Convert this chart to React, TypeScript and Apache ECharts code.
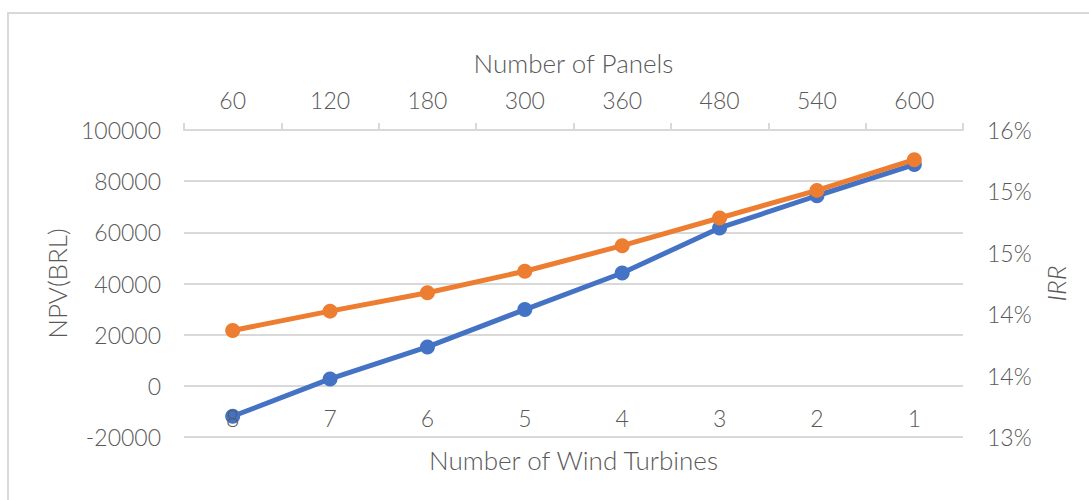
import React, { useEffect, useRef } from "react";
import * as echarts from "echarts";

const turbines = ["8", "7", "6", "5", "4", "3", "2", "1"];
const panels = ["60", "120", "180", "300", "360", "480", "540", "600"];
const npv = [-11900, 2700, 15200, 29800, 44100, 61700, 74300, 86500];
const irr = [14.04, 14.23, 14.41, 14.62, 14.87, 15.14, 15.41, 15.71];

const TEXT = "#595959";
const GRID = "#d9d9d9";
const FONT = "Lato, 'Liberation Sans', sans-serif";
const W = 300;

export default function App() {
  const ref = useRef<HTMLDivElement>(null);
  useEffect(() => {
    if (!ref.current) return;
    const chart = echarts.init(ref.current, undefined, { renderer: "svg" });
    chart.setOption({
      animation: false,
      backgroundColor: "#ffffff",
      textStyle: { fontFamily: FONT, color: TEXT },
      graphic: [
        {
          type: "rect",
          shape: { x: 8, y: 13, width: 1100, height: 520 },
          style: { fill: "none", stroke: GRID, lineWidth: 2 },
          silent: true,
          z: -1,
        },
      ],
      grid: { left: 184, right: 126, top: 130, bottom: 63, containLabel: false },
      xAxis: [
        {
          type: "category",
          position: "bottom",
          data: turbines,
          boundaryGap: true,
          z: 10,
          axisLine: { show: false },
          axisTick: { show: false },
          axisLabel: { inside: true, margin: 8, fontSize: 23, color: TEXT, fontFamily: FONT, fontWeight: W },
          name: "Number of Wind Turbines",
          nameLocation: "middle",
          nameGap: 10,
          nameTextStyle: { fontSize: 26, color: TEXT, fontFamily: FONT, fontWeight: W },
          splitLine: { show: false },
        },
        {
          type: "category",
          position: "top",
          data: panels,
          boundaryGap: true,
          axisLine: { show: true, lineStyle: { color: GRID, width: 2 } },
          axisTick: { show: true, length: 7, lineStyle: { color: GRID, width: 2 } },
          axisLabel: { margin: 19, fontSize: 23, color: TEXT, fontFamily: FONT, fontWeight: W },
          name: "Number of Panels",
          nameLocation: "middle",
          nameGap: 54,
          nameTextStyle: { fontSize: 26, color: TEXT, fontFamily: FONT, fontWeight: W },
          splitLine: { show: false },
        },
      ],
      yAxis: [
        {
          type: "value",
          position: "left",
          min: -20000,
          max: 100000,
          interval: 20000,
          axisLine: { show: false },
          axisTick: { show: false },
          axisLabel: {
            margin: 23,
            fontSize: 23,
            color: TEXT,
            fontFamily: FONT,
            fontWeight: W,
            formatter: (v: number) => String(v),
          },
          splitLine: { show: true, lineStyle: { color: GRID, width: 2 } },
          name: "NPV(BRL)",
          nameLocation: "middle",
          nameGap: 110,
          nameTextStyle: { fontSize: 26, color: TEXT, fontFamily: FONT, fontWeight: W },
        },
        {
          type: "value",
          position: "right",
          min: 13,
          max: 16,
          interval: 0.6,
          axisLine: { show: false },
          axisTick: { show: false },
          axisLabel: {
            margin: 24,
            fontSize: 23,
            color: TEXT,
            fontFamily: FONT,
            fontWeight: W,
            formatter: (v: number) => Math.round(v) + "%",
          },
          splitLine: { show: false },
          name: "IRR",
          nameLocation: "middle",
          nameGap: 80,
          nameRotate: 90,
          nameTextStyle: { fontSize: 26, color: TEXT, fontFamily: FONT, fontStyle: "italic", fontWeight: W },
        },
      ],
      series: [
        {
          name: "NPV",
          type: "line",
          xAxisIndex: 0,
          yAxisIndex: 0,
          data: npv,
          symbol: "circle",
          symbolSize: 15,
          lineStyle: { color: "#4472C4", width: 5 },
          itemStyle: { color: "#4472C4" },
          z: 2,
        },
        {
          name: "IRR",
          type: "line",
          xAxisIndex: 0,
          yAxisIndex: 1,
          data: irr,
          symbol: "circle",
          symbolSize: 15,
          lineStyle: { color: "#ED7D31", width: 5 },
          itemStyle: { color: "#ED7D31" },
          z: 3,
        },
      ],
    });
    return () => chart.dispose();
  }, []);
  return (
    <div
      ref={ref}
      style={{ position: "fixed", left: 0, top: 0, width: 1089, height: 500, background: "#fff" }}
    />
  );
}
